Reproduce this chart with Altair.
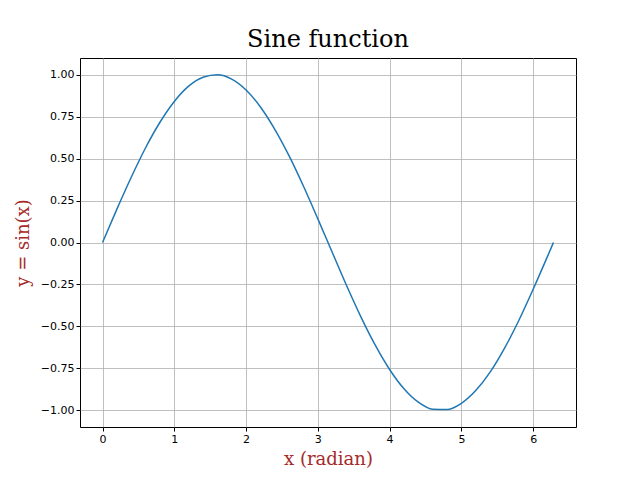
import altair as alt
import pandas as pd

# values
x_vals = [0.0, 0.2, 0.4, 0.6, 0.8, 1.0, 1.2, 1.4, 1.6, 1.8, 2.0, 2.2, 2.4, 2.6, 2.8, 3.0,
          3.2, 3.4, 3.6, 3.8, 4.0, 4.2, 4.4, 4.6, 4.8, 5.0, 5.2, 5.4, 5.6, 5.8, 6.0, 6.2, 6.283]
y_vals = [0.0, 0.199, 0.389, 0.565, 0.717, 0.841, 0.932, 0.985, 1.0, 0.974, 0.909, 0.808,
          0.675, 0.516, 0.335, 0.141, -0.058, -0.256, -0.443, -0.612, -0.757, -0.872, -0.952,
          -0.994, -0.996, -0.959, -0.883, -0.773, -0.631, -0.465, -0.279, -0.083, 0.0]
x_ticks = [0, 1, 2, 3, 4, 5, 6]
y_ticks = [-1.0, -0.75, -0.5, -0.25, 0.0, 0.25, 0.5, 0.75, 1.0]

df = pd.DataFrame({"x": x_vals, "y": y_vals})

title_font = dict(titleFont="DejaVu Serif", titleFontSize=18, titleColor="#a52a2a",
                  titleFontWeight="normal")

chart = alt.Chart(df).mark_line(color="#1f77b4", strokeWidth=1.5,
                                interpolate="monotone").encode(
    x=alt.X("x:Q", title="x (radian)",
            scale=alt.Scale(domain=[-0.314, 6.597], nice=False, zero=False),
            axis=alt.Axis(values=x_ticks, format="d", titlePadding=6, **title_font)),
    y=alt.Y("y:Q", title="y = sin(x)",
            scale=alt.Scale(domain=[-1.1, 1.1], nice=False),
            axis=alt.Axis(values=y_ticks, format=".2f", titlePadding=8, **title_font)),
).properties(
    width=496, height=369,
    title=alt.TitleParams("Sine function", font="DejaVu Serif", fontSize=24,
                          fontWeight="normal", offset=6),
    autosize="none",
    padding={"left": 72, "top": 50, "right": 56, "bottom": 45},
).configure_axis(
    grid=True, gridColor="#b0b0b0", gridWidth=0.8,
    domain=False, tickColor="black", tickSize=4,
    labelFont="DejaVu Sans", labelFontSize=11, labelColor="black",
).configure_view(stroke="black", strokeWidth=1)

chart.save("out.html", embed_options={"renderer": "svg", "actions": False})
